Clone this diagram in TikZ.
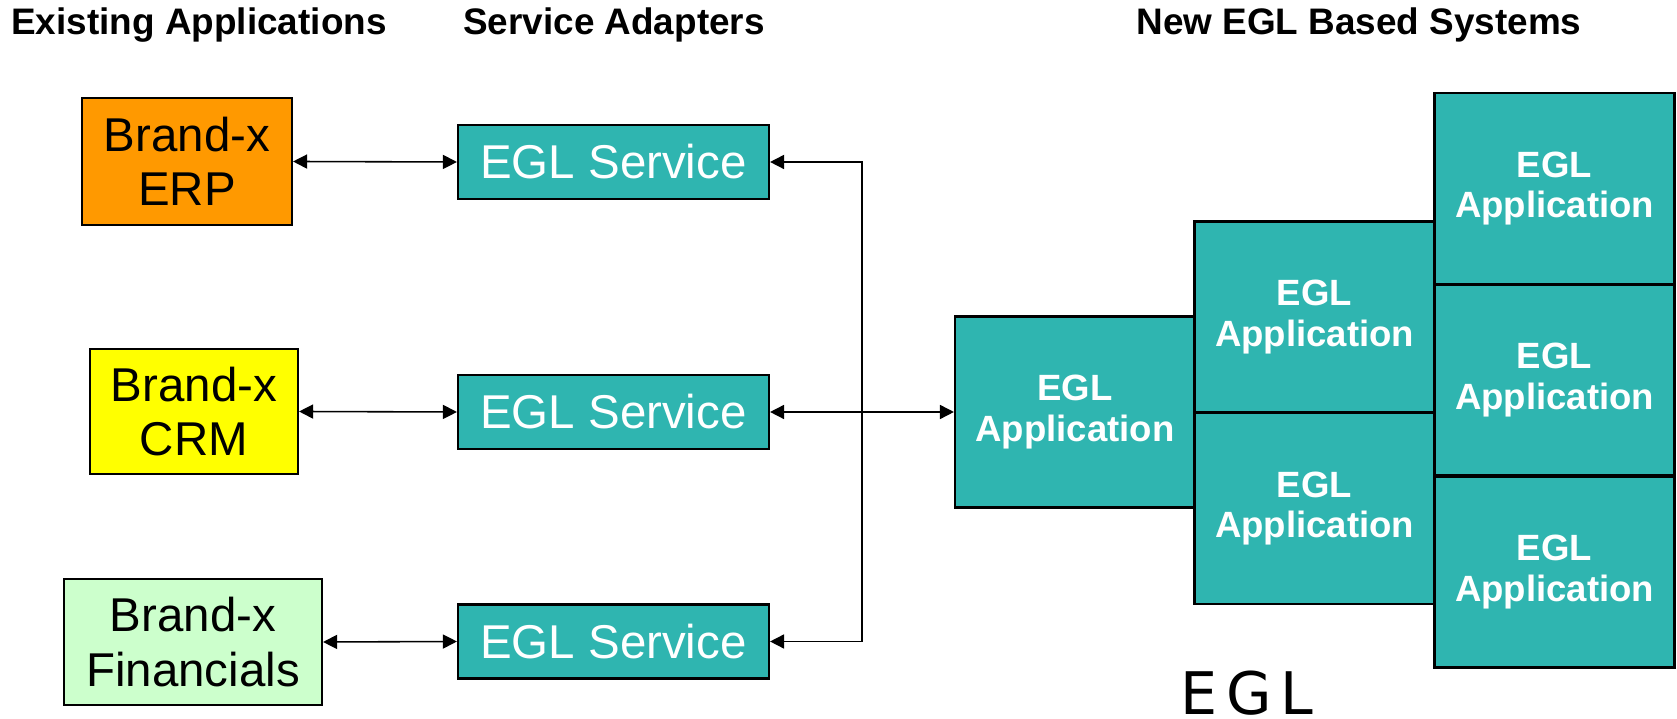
\documentclass[tikz,border=0pt]{standalone}
\usepackage{fontspec}
\setmainfont{Liberation Sans}
\newfontfamily\egllogo{DejaVu Sans}[LetterSpace=15]
\usetikzlibrary{arrows.meta}
\definecolor{eglteal}{RGB}{47,181,176}
\definecolor{erporange}{RGB}{255,153,0}
\definecolor{crmyellow}{RGB}{255,255,0}
\definecolor{fingreen}{RGB}{204,255,204}

\begin{document}
\begin{tikzpicture}[
  brandbox/.style={draw=black,line width=0.6pt,inner sep=0pt,align=center,font=\fontsize{13.5}{15.5}\selectfont},
  svcbox/.style={draw=black,line width=0.6pt,fill=eglteal,text=white,inner sep=0pt,minimum width=3.11cm,minimum height=0.74cm,font=\fontsize{13.5}{15.5}\selectfont},
  appbox/.style={draw=black,line width=0.6pt,fill=eglteal,text=white,inner sep=0pt,align=center,minimum width=2.40cm,minimum height=1.91cm,font=\bfseries\fontsize{10.4}{11.6}\selectfont},
  heading/.style={anchor=base,inner sep=0pt,font=\bfseries\fontsize{10.5}{12}\selectfont},
  link/.style={{Triangle[length=4pt,width=4pt]}-{Triangle[length=4pt,width=4pt]},black,line width=0.45pt}]
  \useasboundingbox (0,0) rectangle (16.77,7.19);

  \node[heading] (hexist) at (1.99,6.84) {Existing Applications};
  \node[heading] (hadapt) at (6.14,6.84) {Service Adapters};
  \node[heading] (hnew) at (13.59,6.84) {New EGL Based Systems};

  \node[brandbox,fill=erporange,minimum width=2.10cm,minimum height=1.27cm] (erp) at (1.87,5.575) {Brand-x\\ERP};
  \node[brandbox,fill=crmyellow,minimum width=2.08cm,minimum height=1.25cm] (crm) at (1.94,3.075) {Brand-x\\CRM};
  \node[brandbox,fill=fingreen,minimum width=2.58cm,minimum height=1.26cm] (fin) at (1.93,0.77) {Brand-x\\Financials};

  \node[svcbox] (svcerp) at (6.135,5.57) {EGL Service};
  \node[svcbox] (svccrm) at (6.135,3.07) {EGL Service};
  \node[svcbox] (svcfin) at (6.135,0.775) {EGL Service};

  \node[appbox] (app) at (10.75,3.07) {EGL\\Application};
  \node[appbox] (apptwoa) at (13.145,4.02) {EGL\\Application};
  \node[appbox] (apptwob) at (13.145,2.105) {EGL\\Application};
  \node[appbox] (appthreea) at (15.545,5.305) {EGL\\Application};
  \node[appbox] (appthreeb) at (15.545,3.39) {EGL\\Application};
  \node[appbox] (appthreec) at (15.545,1.47) {EGL\\Application};

  \node[anchor=base,inner sep=0pt,font=\egllogo\fontsize{16.7}{18}\selectfont] (logo) at (12.47,0.045) {EGL};

  \coordinate (bustop) at (8.62,5.57);
  \coordinate (busbot) at (8.62,0.775);

  \draw[link] (erp.east) -- (svcerp.west);
  \draw[link] (crm.east) -- (svccrm.west);
  \draw[link] (fin.east) -- (svcfin.west);
  \draw[link] (svcerp.east) -- (bustop) -- (busbot) -- (svcfin.east);
  \draw[link] (svccrm.east) -- (app.west);
\end{tikzpicture}
\end{document}
